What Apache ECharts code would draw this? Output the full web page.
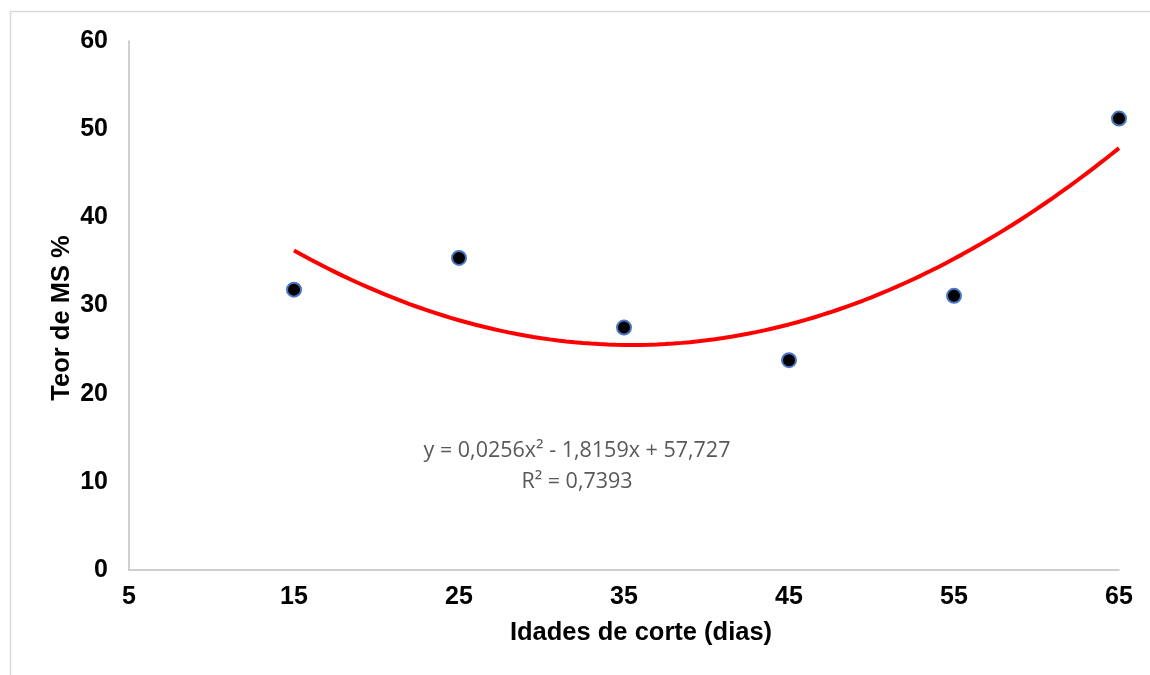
<!DOCTYPE html>
<html>
<head>
<meta charset="utf-8">
<script src="https://cdn.jsdelivr.net/npm/echarts@6/dist/echarts.min.js"></script>
<style>html,body{margin:0;padding:0;background:#fff;}#c{width:1150px;height:675px;}</style>
</head>
<body>
<div id="c"></div>
<script>
// Data
var ages = [15, 25, 35, 45, 55, 65];
var teorMS = [31.8, 35.4, 27.5, 23.8, 31.1, 51.2];
// Polynomial trendline coefficients shown on the chart (y = a x^2 + b x + c)
var trendCoef = [0.0256, -1.8159, 57.727];
var xTicks = [5, 15, 25, 35, 45, 55, 65];
var yTicks = [0, 10, 20, 30, 40, 50, 60];
var eqText = 'y = 0,0256x² - 1,8159x + 57,727';
var r2Text = 'R² = 0,7393';

var trend = [];
for (var x = ages[0]; x <= ages[ages.length - 1] + 1e-9; x += 0.5) {
  trend.push([x, trendCoef[0] * x * x + trendCoef[1] * x + trendCoef[2]]);
}
var scatterData = ages.map(function (a, i) { return [a, teorMS[i]]; });

var chart = echarts.init(document.getElementById('c'));
var labelFont = { color: '#000', fontFamily: 'Liberation Sans, Arial, sans-serif', fontWeight: 'bold', fontSize: 25 };
chart.setOption({
  animation: false,
  backgroundColor: '#fff',
  grid: { left: 129, top: 41, right: 31, bottom: 105 },
  xAxis: {
    type: 'value', min: xTicks[0], max: xTicks[xTicks.length - 1], interval: 10,
    axisLine: { show: true, lineStyle: { color: '#c0c0c0', width: 1.5 } },
    axisTick: { show: false }, splitLine: { show: false },
    axisLabel: Object.assign({ margin: 15 }, labelFont)
  },
  yAxis: {
    type: 'value', min: yTicks[0], max: yTicks[yTicks.length - 1], interval: 10,
    axisLine: { show: true, lineStyle: { color: '#c0c0c0', width: 1.5 } },
    axisTick: { show: false }, splitLine: { show: false },
    axisLabel: Object.assign({ margin: 21 }, labelFont)
  },
  graphic: [
    { type: 'rect', shape: { x: 10.5, y: 11.5, width: 1200, height: 800 }, style: { fill: 'none', stroke: '#d9d9d9', lineWidth: 1.5 }, silent: true, z: -10 },
    { type: 'text', x: 641, y: 633, style: { text: 'Idades de corte (dias)', align: 'center', verticalAlign: 'middle', fill: '#000', font: 'bold 25.5px "Liberation Sans", Arial, sans-serif' } },
    { type: 'text', x: 62, y: 318, rotation: Math.PI / 2, style: { text: 'Teor de MS %', align: 'center', verticalAlign: 'middle', fill: '#000', font: 'bold 25.5px "Liberation Sans", Arial, sans-serif' } },
    { type: 'text', x: 577, y: 451, style: { text: eqText, align: 'center', verticalAlign: 'middle', fill: '#595959', font: '21.5px "Open Sans", sans-serif' } },
    { type: 'text', x: 577, y: 482, style: { text: r2Text, align: 'center', verticalAlign: 'middle', fill: '#595959', font: '21.5px "Open Sans", sans-serif' } }
  ],
  series: [
    {
      type: 'line', data: trend, showSymbol: false, smooth: false,
      lineStyle: { color: '#ff0000', width: 4 }, z: 2
    },
    {
      type: 'scatter', data: scatterData, symbol: 'circle', symbolSize: 14,
      itemStyle: { color: '#000', borderColor: '#4a76c4', borderWidth: 2, opacity: 1 }, z: 3
    }
  ]
});
</script>
</body>
</html>
